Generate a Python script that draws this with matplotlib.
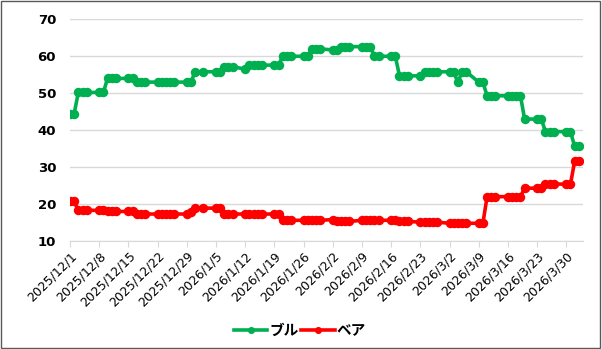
import matplotlib
matplotlib.use("Agg")
import pandas as pd
import matplotlib.pyplot as plt
import matplotlib.dates as mdates
from matplotlib.patches import Rectangle

plt.rcParams['font.family'] = ['Noto Sans CJK JP', 'DejaVu Sans']

# business days shown in the chart (1/1 missing)
dates = [
    '2025-12-01', '2025-12-02', '2025-12-03', '2025-12-04', '2025-12-05',
    '2025-12-08', '2025-12-09', '2025-12-10', '2025-12-11', '2025-12-12',
    '2025-12-15', '2025-12-16', '2025-12-17', '2025-12-18', '2025-12-19',
    '2025-12-22', '2025-12-23', '2025-12-24', '2025-12-25', '2025-12-26',
    '2025-12-29', '2025-12-30', '2025-12-31', '2026-01-02',
    '2026-01-05', '2026-01-06', '2026-01-07', '2026-01-08', '2026-01-09',
    '2026-01-12', '2026-01-13', '2026-01-14', '2026-01-15', '2026-01-16',
    '2026-01-19', '2026-01-20', '2026-01-21', '2026-01-22', '2026-01-23',
    '2026-01-26', '2026-01-27', '2026-01-28', '2026-01-29', '2026-01-30',
    '2026-02-02', '2026-02-03', '2026-02-04', '2026-02-05', '2026-02-06',
    '2026-02-09', '2026-02-10', '2026-02-11', '2026-02-12', '2026-02-13',
    '2026-02-16', '2026-02-17', '2026-02-18', '2026-02-19', '2026-02-20',
    '2026-02-23', '2026-02-24', '2026-02-25', '2026-02-26', '2026-02-27',
    '2026-03-02', '2026-03-03', '2026-03-04', '2026-03-05', '2026-03-06',
    '2026-03-09', '2026-03-10', '2026-03-11', '2026-03-12', '2026-03-13',
    '2026-03-16', '2026-03-17', '2026-03-18', '2026-03-19', '2026-03-20',
    '2026-03-23', '2026-03-24', '2026-03-25', '2026-03-26', '2026-03-27',
    '2026-03-30', '2026-03-31', '2026-04-01', '2026-04-02',
]

bull = [
    44.5, 44.5, 50.2, 50.2, 50.2,
    50.2, 50.2, 54.0, 54.0, 54.0,
    54.0, 54.0, 53.0, 53.0, 53.0,
    53.0, 53.0, 53.0, 53.0, 53.0,
    53.0, 53.0, 55.8, 55.8,
    55.8, 55.8, 57.2, 57.2, 57.2,
    56.5, 57.6, 57.6, 57.6, 57.6,
    57.6, 57.6, 60.0, 60.0, 60.0,
    60.0, 60.0, 62.0, 62.0, 62.0,
    61.7, 61.7, 62.6, 62.6, 62.6,
    62.6, 62.6, 62.6, 60.0, 60.0,
    60.0, 60.0, 54.7, 54.7, 54.7,
    54.7, 55.8, 55.8, 55.8, 55.8,
    55.8, 55.8, 52.9, 55.8, 55.8,
    53.0, 53.0, 49.3, 49.3, 49.3,
    49.3, 49.3, 49.3, 49.3, 43.0,
    43.0, 43.0, 39.6, 39.6, 39.6,
    39.6, 39.6, 35.6, 35.6,
]

bear = [
    20.7, 20.7, 18.3, 18.3, 18.3,
    18.3, 18.3, 18.0, 18.0, 18.0,
    18.0, 18.0, 17.3, 17.3, 17.3,
    17.3, 17.3, 17.3, 17.3, 17.3,
    17.3, 17.8, 18.9, 18.9,
    18.9, 18.9, 17.3, 17.3, 17.3,
    17.3, 17.3, 17.3, 17.3, 17.3,
    17.3, 17.3, 15.6, 15.6, 15.6,
    15.6, 15.6, 15.6, 15.6, 15.6,
    15.8, 15.3, 15.3, 15.3, 15.3,
    15.6, 15.6, 15.6, 15.6, 15.6,
    15.6, 15.6, 15.3, 15.3, 15.3,
    15.1, 15.1, 15.1, 15.1, 15.1,
    14.8, 14.8, 14.8, 14.8, 14.8,
    14.8, 14.8, 22.0, 22.0, 22.0,
    22.0, 22.0, 22.0, 22.0, 24.3,
    24.3, 24.3, 25.4, 25.4, 25.4,
    25.4, 25.4, 31.6, 31.6,
]

series_names = ['ブル', 'ベア']
series_colors = ['#00B050', '#FF0000']

x = pd.to_datetime(dates)

fig = plt.figure(figsize=(6.02, 3.49), dpi=100)
ax = fig.add_axes([70 / 602, 1 - 241 / 349, (583 - 70) / 602, (241 - 19.3) / 349])

for vals, name, col in zip([bull, bear], series_names, series_colors):
    ax.plot(x, vals, color=col, lw=2.6, marker='o', markersize=6.8,
            markeredgewidth=0, label=name, solid_joinstyle='round')

ax.set_ylim(10, 70)
ax.set_yticks(range(10, 71, 10))
ax.set_xlim(pd.Timestamp('2025-12-01'), pd.Timestamp('2026-04-03'))

ax.xaxis.set_major_locator(mdates.WeekdayLocator(byweekday=mdates.MO))
ax.xaxis.set_major_formatter(
    plt.FuncFormatter(lambda v, p: (lambda d: f"{d.year}/{d.month}/{d.day}")(mdates.num2date(v))))

ax.grid(axis='y', color='#d9d9d9', lw=1)
ax.set_axisbelow(True)
for s in ['left', 'top', 'right']:
    ax.spines[s].set_visible(False)
ax.spines['bottom'].set_color('#d9d9d9')

ax.tick_params(axis='y', length=0, pad=10)
ax.tick_params(axis='x', length=4, color='#d9d9d9', pad=2)
for t in ax.get_yticklabels():
    t.set_fontweight('bold')
    t.set_fontfamily('DejaVu Sans')
    t.set_fontsize(9.5)
for t in ax.get_xticklabels():
    t.set_fontfamily('DejaVu Sans')
    t.set_fontsize(9)
plt.setp(ax.get_xticklabels(), rotation=45, ha='right', rotation_mode='anchor')

fig.legend(loc='center', bbox_to_anchor=(300 / 602, 1 - 330 / 349), ncol=2,
           frameon=False, handlelength=2.3, handletextpad=0.15, columnspacing=0.15,
           markerscale=0.75, prop={'weight': 'bold', 'size': 10.5})

fig.patches.append(Rectangle((0.002, 0.003), 0.995, 0.994, transform=fig.transFigure,
                             fill=False, edgecolor='#595959', lw=1))

fig.savefig('out.png', dpi=100)
